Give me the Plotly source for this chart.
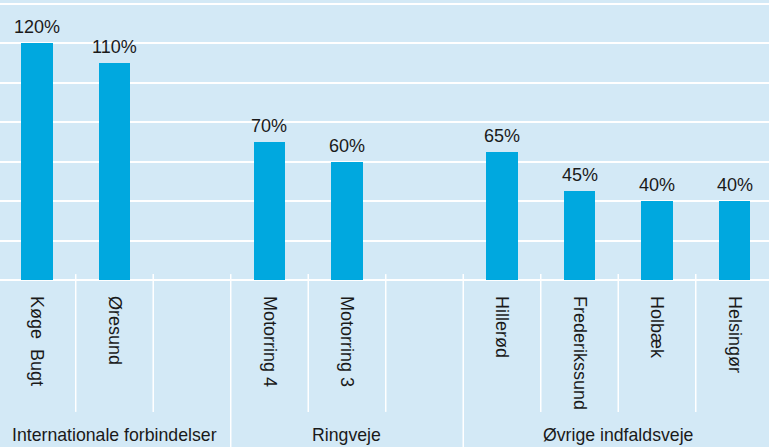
import plotly.graph_objects as go

categories = ["Køge\u00a0\u00a0Bugt", "Øresund", "Motorring 4", "Motorring 3",
              "Hillerød", "Frederikssund", "Holbæk", "Helsingør"]
values = [120, 110, 70, 60, 65, 45, 40, 40]
groups = ["Internationale forbindelser", "Ringveje", "Øvrige indfaldsveje"]
group_sizes = [2, 2, 4]
group_slots = [3, 3, 4]  # slots per group incl. empty gap slot

BG = "#d3e9f6"
BAR = "#00a8df"
TXT = "#1a1a1a"
FONT = "Liberation Sans, Arial, sans-serif"
FS = 18

# positions of bars in slot units
positions = []
start = 0
group_starts = []
for n, s in zip(group_sizes, group_slots):
    group_starts.append(start)
    positions.extend(range(start, start + n))
    start += s
total_slots = start

fig = go.Figure()
fig.add_trace(go.Bar(
    x=positions, y=values, width=0.41,
    marker=dict(color=BAR, line=dict(width=0)),
    hoverinfo="skip", showlegend=False,
))

shapes = []
group_bounds = set(group_starts[1:])
for b in range(1, total_slots):
    major = b in group_bounds
    shapes.append(dict(
        type="line", xref="x", yref="paper",
        x0=b - 0.5, x1=b - 0.5,
        y0=0.021, y1=-0.6 if major else -0.471,
        line=dict(color="white", width=1.5), layer="above"))

annotations = []
for p, v in zip(positions, values):
    annotations.append(dict(
        text=f"{v}%", xref="x", yref="y", x=p, y=v, yshift=4,
        showarrow=False, xanchor="center", yanchor="bottom",
        font=dict(size=FS, color=TXT, family=FONT)))
for g, st, s in zip(groups, group_starts, group_slots):
    annotations.append(dict(
        text=g, xref="x", yref="paper", x=st + (s - 1) / 2, y=-0.555,
        showarrow=False, xanchor="center", yanchor="middle",
        font=dict(size=17.7, color=TXT, family=FONT)))

fig.update_layout(
    width=769, height=447,
    margin=dict(l=0, r=0, t=0, b=167, autoexpand=False),
    paper_bgcolor=BG, plot_bgcolor=BG,
    bargap=0,
    shapes=shapes, annotations=annotations,
    xaxis=dict(range=[-0.477, 9.445], tickvals=positions, ticktext=categories,
               tickangle=90, showgrid=False, zeroline=False, ticks="",
               automargin=False, ticklabelstandoff=15,
               tickfont=dict(size=FS, color=TXT, family=FONT)),
    yaxis=dict(range=[0, 141.8], dtick=20, showgrid=True, gridcolor="white",
               gridwidth=1.5, zeroline=True, zerolinecolor="white",
               automargin=False,
               zerolinewidth=1.5, showticklabels=False, ticks=""),
    font=dict(family=FONT, color=TXT),
)

fig.write_html("out.html", config={"displayModeBar": False},
               post_script="document.body.style.margin='0';document.body.style.background='#d3e9f6';")
